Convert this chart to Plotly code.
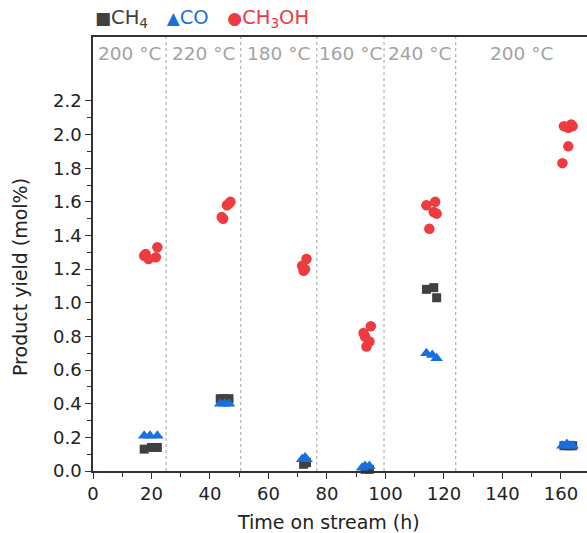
import plotly.graph_objects as go

# Time on stream (h) and product yields (mol%)
ch4_t = [17.5, 20, 22, 43.5, 45, 46.5, 72, 73, 93, 94.5, 114, 116.5, 117.5, 161, 163, 164]
ch4_y = [0.13, 0.14, 0.14, 0.43, 0.43, 0.43, 0.04, 0.05, 0.01, 0.01, 1.08, 1.09, 1.03, 0.15, 0.15, 0.15]

co_t = [17.5, 19.5, 22, 43.5, 45, 46.5, 71.5, 72.5, 73, 92, 93, 94.5, 114, 116, 117.5, 160.5, 162, 163, 164]
co_y = [0.21, 0.21, 0.21, 0.40, 0.40, 0.40, 0.07, 0.08, 0.07, 0.02, 0.03, 0.03, 0.70, 0.69, 0.67, 0.15, 0.16, 0.15, 0.15]

meoh_t = [17.5, 18, 19, 21.5, 22, 44, 44.5, 45.8, 46.5, 47, 71.5, 72, 72.5, 73,
          92.5, 93, 93.5, 94.5, 95, 114, 115, 116.5, 117, 117.5,
          160.5, 161, 162.5, 162.5, 163.5, 164]
meoh_y = [1.28, 1.29, 1.26, 1.27, 1.33, 1.51, 1.50, 1.58, 1.59, 1.60, 1.22, 1.19, 1.20, 1.26,
          0.82, 0.80, 0.74, 0.77, 0.86, 1.58, 1.44, 1.54, 1.60, 1.53,
          1.83, 2.05, 2.04, 1.93, 2.06, 2.05]

# Temperature steps and the times where the setpoint changed
step_bounds = [25, 50.5, 76.5, 99.5, 124]
step_temps = ["200 °C", "220 °C", "180 °C", "160 °C", "240 °C", "200 °C"]

x_max = 168.9
y_max = 2.58

c_ch4 = "#404040"
c_co = "#1a6fdf"
c_meoh = "#ee3b3f"
font = "DejaVu Sans"

fig = go.Figure()
fig.add_trace(go.Scatter(x=ch4_t, y=ch4_y, mode="markers", name="CH4",
                         marker=dict(symbol="square", size=9, color=c_ch4), cliponaxis=False))
fig.add_trace(go.Scatter(x=co_t, y=co_y, mode="markers", name="CO",
                         marker=dict(symbol="triangle-up", size=11, color=c_co), cliponaxis=False))
fig.add_trace(go.Scatter(x=meoh_t, y=meoh_y, mode="markers", name="CH3OH",
                         marker=dict(symbol="circle", size=10.5, color=c_meoh), cliponaxis=False))

# Dotted separators between temperature steps
for b in step_bounds:
    fig.add_shape(type="line", x0=b, x1=b, y0=0, y1=1, xref="x", yref="paper",
                  line=dict(color="#b0b0b0", width=1.2, dash="dot"), layer="below")

# Temperature labels centred in each segment
edges = [0] + step_bounds + [x_max]
for i, label in enumerate(step_temps):
    fig.add_annotation(x=(edges[i] + edges[i + 1]) / 2, y=1, xref="x", yref="paper",
                       yanchor="middle", yshift=-16, text=label, showarrow=False,
                       font=dict(family=font, size=18.5, color="#a3a3a3"))

# Legend row above the frame
fig.add_annotation(
    x=0, y=1, xref="paper", yref="paper", xanchor="left", yanchor="bottom", yshift=4,
    showarrow=False, align="left",
    text=(f"<span style='color:{c_ch4}'><span style='font-size:17px'>■</span>CH<sub>4</sub></span>"
          f"&nbsp;&nbsp;&nbsp;<span style='color:{c_co}'><span style='font-size:17px'>▲</span>CO</span>"
          f"&nbsp;&nbsp;&nbsp;<span style='color:{c_meoh}'><span style='font-size:17px'>●</span>CH<sub>3</sub>OH</span>"),
    font=dict(family=font, size=19.5),
)

# Axis titles
fig.add_annotation(x=(328 - 93) / 494, y=0, xref="paper", yref="paper", yanchor="middle",
                   yshift=-51, text="Time on stream (h)", showarrow=False,
                   font=dict(family=font, size=19, color="#222"))
fig.add_annotation(x=0, y=(471 - 277) / 434, xref="paper", yref="paper", xanchor="center",
                   xshift=-73, text="Product yield (mol%)", textangle=-90, showarrow=False,
                   font=dict(family=font, size=19, color="#222"))

fig.update_layout(
    width=587, height=533,
    margin=dict(l=93, r=0, t=37, b=62),
    paper_bgcolor="white", plot_bgcolor="white",
    showlegend=False,
    font=dict(family=font, size=18, color="#222"),
    xaxis=dict(range=[0, x_max], tickvals=[0, 20, 40, 60, 80, 100, 120, 140, 160],
               showgrid=False, zeroline=False, showline=True, linecolor="#333", linewidth=1.5,
               mirror=True, ticks="outside", ticklen=6, tickwidth=1.2, tickcolor="#333",
               minor=dict(dtick=10, tick0=0, ticks="outside", ticklen=4, tickwidth=1.2,
                          tickcolor="#333", showgrid=False),
               tickfont=dict(family=font, size=18, color="#222")),
    yaxis=dict(range=[0, y_max], tickvals=[round(0.2 * i, 1) for i in range(12)],
               ticktext=[f"{0.2 * i:.1f}" for i in range(12)],
               showgrid=False, zeroline=False, showline=True, linecolor="#333", linewidth=1.5,
               ticks="outside", ticklen=6, tickwidth=1.2, tickcolor="#333",
               minor=dict(tickvals=[round(0.1 + 0.2 * i, 1) for i in range(11)], ticks="outside",
                          ticklen=4, tickwidth=1.2, tickcolor="#333", showgrid=False),
               tickfont=dict(family=font, size=18, color="#222")),
)

fig.write_html("out.html")
